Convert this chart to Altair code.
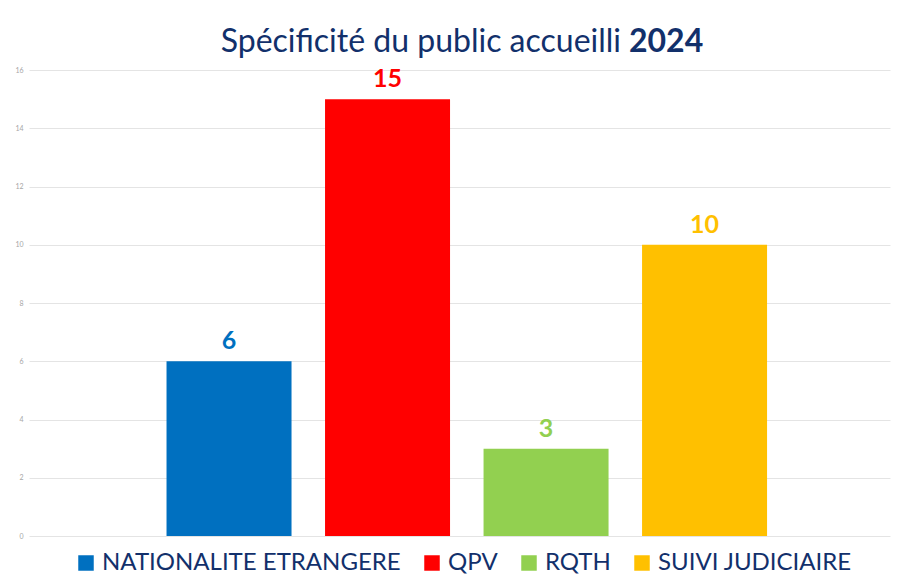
import altair as alt
import pandas as pd

categories = ["NATIONALITE ETRANGERE", "QPV", "RQTH", "SUIVI JUDICIAIRE"]
values = [6, 15, 3, 10]
colors = ["#0070C0", "#FF0000", "#92D050", "#FFC000"]
y_ticks = [0, 2, 4, 6, 8, 10, 12, 14, 16]
title_regular = "Spécificité du public accueilli"
title_bold = "2024"

df = pd.DataFrame({"cat": categories, "val": values})

W, H = 861, 466
NAVY = "#12306b"
FONT = "Lato"

color_scale = alt.Scale(domain=categories, range=colors)
x_enc = alt.X("cat:N", axis=None, sort=categories,
              scale=alt.Scale(domain=categories, paddingInner=0.2114,
                              paddingOuter=0.8216, align=0.528))
y_enc = alt.Y("val:Q", scale=alt.Scale(domain=[0, 16]),
              axis=alt.Axis(values=y_ticks, title=None, domain=False, ticks=False,
                            labelFontSize=7, labelColor="#a6a6a6", labelFont=FONT,
                            gridColor="#e4e4e4", gridWidth=1, labelPadding=6))

bars = alt.Chart(df).mark_bar().encode(
    x=x_enc, y=y_enc,
    color=alt.Color("cat:N", scale=color_scale, sort=categories,
                    legend=alt.Legend(title=None, orient="none", legendX=45, legendY=481,
                                      direction="horizontal", symbolType="square",
                                      symbolSize=240, symbolStrokeWidth=0,
                                      labelFontSize=24, labelFont=FONT, labelColor=NAVY,
                                      labelOffset=4, columnPadding=19, padding=0,
                                      labelLimit=400))
)

labels = alt.Chart(df).mark_text(dy=-12, baseline="alphabetic", fontSize=25,
                                 fontWeight="bold", font=FONT).encode(
    x=x_enc, y="val:Q", text="val:Q",
    color=alt.Color("cat:N", scale=color_scale, legend=None)
)

t_df = pd.DataFrame({"a": [title_regular], "b": [title_bold]})
title1 = alt.Chart(t_df).mark_text(align="right", baseline="alphabetic", fontSize=32,
                                   font=FONT, color=NAVY).encode(
    x=alt.value(592), y=alt.value(-18), text="a:N")
title2 = alt.Chart(t_df).mark_text(align="left", baseline="alphabetic", fontSize=32,
                                   font=FONT, fontWeight="bold", color=NAVY).encode(
    x=alt.value(600), y=alt.value(-18), text="b:N")

chart = alt.layer(bars, labels, title1, title2).properties(
    width=W, height=H,
    autosize=alt.AutoSizeParams(type="none"),
    padding={"left": 21, "top": 62, "right": 1, "bottom": 38},
).configure_view(stroke=None)

chart.save("out.html", embed_options={"renderer": "svg", "actions": False})
